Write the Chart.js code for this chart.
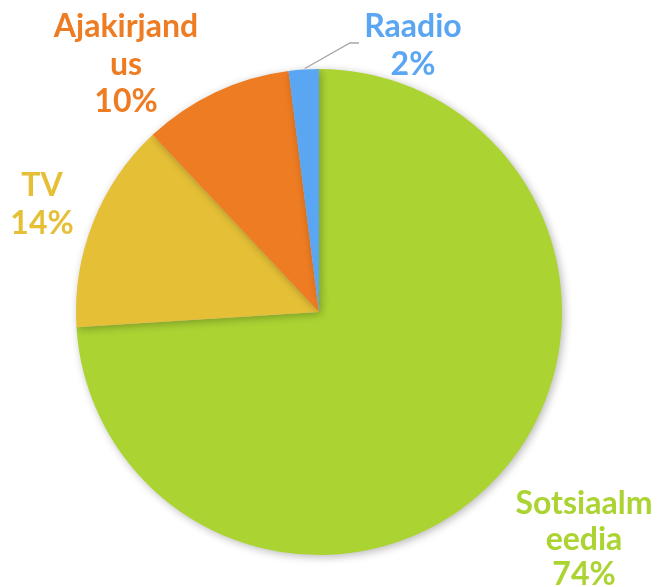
<!DOCTYPE html>
<html>
<head>
<meta charset="utf-8">
<script src="https://cdn.jsdelivr.net/npm/chart.js@4"></script>
<style>
  html, body { margin: 0; padding: 0; background: #ffffff; }
  #wrap { width: 659px; height: 587px; }
</style>
</head>
<body>
<div id="wrap"><canvas id="pieChart" width="659" height="587"></canvas></div>
<script>
const categories = ["Sotsiaalmeedia", "TV", "Ajakirjandus", "Raadio"];
const shares = [74, 14, 10, 2];
const sliceColors = ["#ABD433", "#E5BF36", "#EE7C23", "#5AA6F2"];
// how each label is broken into lines, as in the picture
const labelLines = [
    ["Sotsiaalm", "eedia", "74%"],
    ["TV", "14%"],
    ["Ajakirjand", "us", "10%"],
    ["Raadio", "2%"]
];
// centre x, first baseline and line step of each label
const labelAnchors = [[584, 514, 35.5], [42, 196, 37.5], [126, 37, 37.5], [413, 37, 37.5]];

const shadowPlugin = {
    id: "shadow",
    beforeDatasetsDraw(chart) {
        const ctx = chart.ctx;
        ctx.save();
        ctx.shadowColor = "rgba(0,0,0,0.28)";
        ctx.shadowBlur = 8;
        ctx.shadowOffsetX = 2;
        ctx.shadowOffsetY = 2;
    },
    afterDatasetsDraw(chart) {
        chart.ctx.restore();
    }
};

const labelPlugin = {
    id: "pieLabels",
    afterDraw(chart) {
        const ctx = chart.ctx;
        const arcs = chart.getDatasetMeta(0).data;
        ctx.save();

        // leader line for the small slice
        const a = arcs[3];
        const mid = (a.startAngle + a.endAngle) / 2;
        const sx = a.x + Math.cos(mid) * a.outerRadius;
        const sy = a.y + Math.sin(mid) * a.outerRadius;
        ctx.strokeStyle = "#A6A6A6";
        ctx.lineWidth = 1.3;
        ctx.beginPath();
        ctx.moveTo(sx + 1, sy - 1);
        ctx.lineTo(350, 43);
        ctx.lineTo(359, 43);
        ctx.stroke();

        ctx.font = "bold 32px Lato";
        ctx.textAlign = "center";
        ctx.textBaseline = "alphabetic";
        labelLines.forEach((lines, i) => {
            ctx.fillStyle = sliceColors[i];
            const [x, y, step] = labelAnchors[i];
            lines.forEach((t, j) => ctx.fillText(t, x, y + j * step));
        });
        ctx.restore();
    }
};

new Chart(document.getElementById("pieChart").getContext("2d"), {
    type: "pie",
    data: {
        labels: categories,
        datasets: [{
            data: shares,
            backgroundColor: sliceColors,
            borderWidth: 0
        }]
    },
    options: {
        responsive: false,
        animation: false,
        layout: { padding: { left: 76, right: 97, top: 69, bottom: 32 } },
        plugins: {
            legend: { display: false },
            tooltip: { enabled: false }
        }
    },
    plugins: [shadowPlugin, labelPlugin]
});
</script>
</body>
</html>
